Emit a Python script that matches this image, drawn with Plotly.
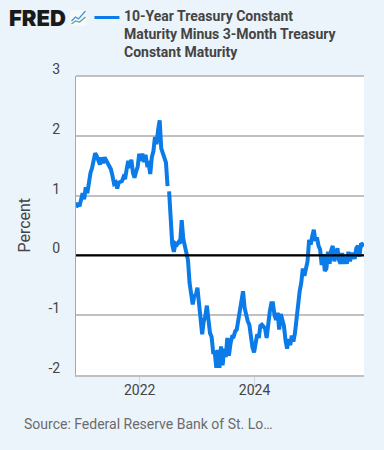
import pandas as pd
import plotly.graph_objects as go

START_DATE = "2020-11-24"
STEP = "10D"
SPREAD = [
 0.80,0.88,0.82,0.94,1.04,0.94,1.14,1.04,1.24,1.38,1.46,1.60,1.71,1.66,1.60,1.52,1.64,1.54,1.64,1.58,1.56,1.46,1.44,1.33,
 1.20,1.22,1.12,1.22,1.24,1.24,1.31,1.28,1.44,1.58,1.46,1.60,1.38,1.30,1.40,1.48,1.70,1.58,1.70,1.56,1.68,1.52,1.54,1.36,
 1.64,1.74,1.98,1.86,2.10,2.26,1.79,1.72,1.65,1.55,1.16,1.07,0.62,0.18,0.06,0.20,0.18,0.22,0.20,0.59,0.28,0.14,0.04,-0.08,
 -0.46,-0.66,-0.82,-0.68,-0.66,-0.54,-0.82,-1.14,-1.32,-1.10,-1.02,-0.84,-1.06,-1.30,-1.36,-1.62,-1.62,-1.88,-1.58,-1.88,-1.52,
 -1.84,-1.56,-1.70,-1.38,-1.68,-1.48,-1.36,-1.36,-1.27,-1.24,-1.10,-0.90,-0.78,-0.60,-0.88,-1.02,-1.10,-1.16,-1.40,-1.54,-1.62,
 -1.50,-1.32,-1.38,-1.18,-1.16,-1.18,-1.22,-1.38,-1.08,-0.94,-0.80,-0.80,-1.00,-1.08,-0.96,-1.24,-0.98,-1.08,-1.18,-1.42,-1.56,
 -1.40,-1.50,-1.34,-1.44,-1.30,-1.05,-0.76,-0.60,-0.46,-0.22,-0.34,-0.17,-0.10,0.26,0.18,0.32,0.43,0.24,0.30,0.16,0.10,-0.16,
 0.02,-0.26,-0.22,0.06,-0.14,0.08,0.16,-0.10,0.06,0.12,-0.08,-0.14,0.04,-0.14,-0.02,-0.14,0.06,-0.10,0.02,0.02,-0.06,0.12,
 0.16,-0.02,0.20,0.18,0.16]
GAP_DATES = ["2022-07-02"]
SERIES_NAME = "10-Year Treasury Constant<br>Maturity Minus 3-Month Treasury<br>Constant Maturity"
Y_TICKS = [3, 2, 1, 0, -1, -2]
Y_LABELS = ["3", "2", "1", "0", "-1", "-2"]
X_TICKS = ["2022-01-01", "2024-01-01"]
X_LABELS = ["2022", "2024"]
SOURCE = "Source: Federal Reserve Bank of St. Lo…"

dates = pd.date_range(START_DATE, periods=len(SPREAD), freq=STEP)
s = pd.Series(SPREAD, index=dates, dtype=float)
s = pd.concat([s, pd.Series(float("nan"), index=pd.to_datetime(GAP_DATES))]).sort_index()

W, H = 384, 450
L, R, T, B = 75.5, 20, 76, 75
BG = "#ebf3fb"
BLUE = "#0a7be8"

def px(x): return (x - L) / (W - L - R)
def py(y): return 1 - (y - T) / (H - T - B)

fig = go.Figure(go.Scatter(x=s.index, y=s.values, mode="lines", connectgaps=False,
                           line=dict(color=BLUE, width=4), hoverinfo="skip"))

fig.add_shape(type="line", xref="paper", yref="y", x0=0, x1=1, y0=0, y1=0,
              line=dict(color="#000", width=2.2), layer="above")
fig.add_shape(type="line", xref="paper", yref="paper", x0=px(94), x1=px(119), y0=py(17.5), y1=py(17.5),
              line=dict(color=BLUE, width=3))
# small FRED chart icon
fig.add_shape(type="rect", xref="paper", yref="paper", x0=px(70), x1=px(86), y0=py(10), y1=py(26),
              line=dict(width=0), fillcolor="#f6f8fa")
fig.add_shape(type="path", xref="paper", yref="paper",
              path=f"M {px(71)} {py(21)} L {px(75)} {py(17)} L {px(78)} {py(19)} L {px(85)} {py(11)}",
              line=dict(color="#3f8fdc", width=1.2))
fig.add_shape(type="path", xref="paper", yref="paper",
              path=f"M {px(71)} {py(24)} L {px(75)} {py(21)} L {px(79)} {py(22)} L {px(85)} {py(17)}",
              line=dict(color="#4fa893", width=1.2))

fig.add_annotation(xref="paper", yref="paper", x=px(8.5), y=py(17.5), text="FRED", showarrow=False,
                   xanchor="left", yanchor="middle", xshift=-2,
                   font=dict(family="Inter", size=22, weight=900, color="#1a1a1a"))
fig.add_annotation(xref="paper", yref="paper", x=px(124), y=py(34.5), text="<b>"+SERIES_NAME.replace("<br>", "</b><br><b>")+"</b>",
                   showarrow=False, xanchor="left", yanchor="middle", align="left", xshift=-2,
                   font=dict(family="Roboto", size=14, color="#444"))
fig.add_annotation(xref="paper", yref="paper", x=px(23), y=py(424), text=SOURCE, showarrow=False,
                   xanchor="left", yanchor="middle", xshift=-2, font=dict(family="Roboto", size=14, color="#6b6b6b"))
fig.add_annotation(xref="paper", yref="paper", x=px(23), y=py(225), text="Percent", showarrow=False, textangle=-90,
                   xanchor="center", yanchor="middle", font=dict(family="Roboto", size=16, color="#444"))

fig.update_layout(
    width=W, height=H, margin=dict(l=L, r=R, t=T, b=B, pad=0, autoexpand=False),
    paper_bgcolor=BG, plot_bgcolor="#fff", showlegend=False,
    xaxis=dict(range=["2020-11-22", "2025-11-27"], tickvals=X_TICKS, ticktext=X_LABELS,
               showgrid=False, ticks="outside", ticklen=10, tickwidth=1, tickcolor="#c8d6e6",
               showline=True, linecolor="#c0c0c0", linewidth=2, mirror=False, zeroline=False,
               ticklabelstandoff=-9,
               tickfont=dict(family="Roboto", size=14, color="#444")),
    yaxis=dict(range=[-2, 3], tickvals=Y_TICKS, ticktext=Y_LABELS, showgrid=True, gridcolor="#c0c0c0", gridwidth=2,
               ticks="", zeroline=False, showline=True, linecolor="#a8a8a8", linewidth=1,
               tickfont=dict(family="Roboto", size=14, color="#444"), ticklabelstandoff=12, ticklabelshift=-7),
)
fig.add_shape(type="line", xref="paper", yref="paper", x0=0, x1=1, y0=1, y1=1,
              line=dict(color="#c0c0c0", width=2), layer="below")
fig.write_html("out.html", config={"displayModeBar": False},
               post_script=f"document.body.style.margin='0';document.body.style.background='{BG}';document.documentElement.style.overflow='hidden';")
